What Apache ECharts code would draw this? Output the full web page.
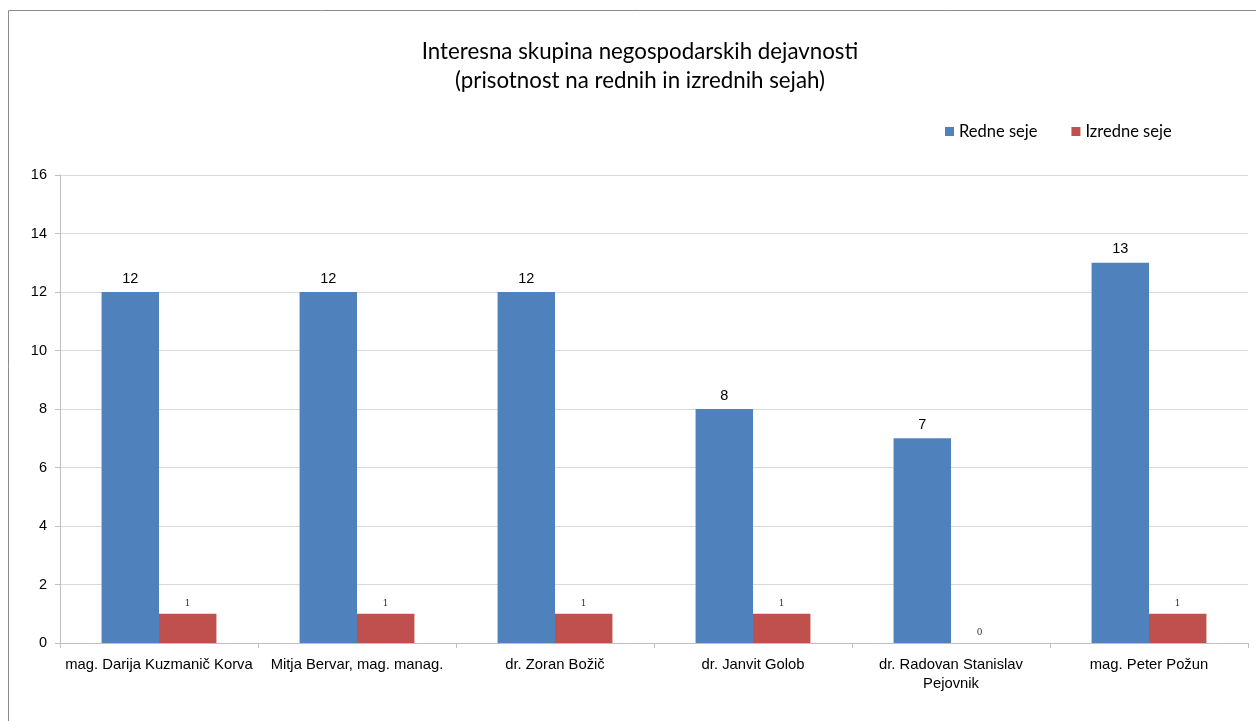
<!DOCTYPE html>
<html>
<head>
<meta charset="utf-8">
<script src="https://cdn.jsdelivr.net/npm/echarts@6/dist/echarts.min.js"></script>
<style>
  html, body { margin: 0; padding: 0; background: #fff; }
  #chart { width: 1256px; height: 721px; }
</style>
</head>
<body>
<div id="chart"></div>
<script>
// podatki
const categories = [
  "mag. Darija Kuzmanič Korva",
  "Mitja Bervar, mag. manag.",
  "dr. Zoran Božič",
  "dr. Janvit Golob",
  "dr. Radovan Stanislav\nPejovnik",
  "mag. Peter Požun"
];
const redneSeje = [12, 12, 12, 8, 7, 13];
const izredneSeje = [1, 1, 1, 1, 0, 1];
const yTicks = [0, 2, 4, 6, 8, 10, 12, 14, 16];

let myChart = echarts.init(document.getElementById("chart"));
myChart.setOption({
  animation: false,
  color: ["#4F81BD", "#C0504D"],
  graphic: [
    {
      type: "rect",
      shape: { x: 8.5, y: 10.5, width: 1260, height: 720 },
      style: { fill: "none", stroke: "#8c8c8c", lineWidth: 1 },
      silent: true
    }
  ],
  title: {
    text: "Interesna skupina negospodarskih dejavnosti\n(prisotnost na rednih in izrednih sejah)",
    left: 635,
    textAlign: "center",
    top: 32,
    textStyle: {
      fontFamily: "Lato",
      fontWeight: "normal",
      fontSize: 22.3,
      lineHeight: 29,
      color: "#000"
    }
  },
  legend: {
    data: ["Redne seje", "Izredne seje"],
    left: 940,
    top: 118,
    itemWidth: 9,
    itemHeight: 9,
    itemGap: 34,
    icon: "rect",
    textStyle: { fontFamily: "Lato", fontSize: 16.5, color: "#000" }
  },
  grid: {
    left: 60,
    right: 8,
    top: 175,
    bottom: 78
  },
  xAxis: {
    type: "category",
    data: categories,
    axisLine: { lineStyle: { color: "#BFBFBF" } },
    axisTick: { show: true, length: 5, lineStyle: { color: "#BFBFBF" } },
    axisLabel: {
      interval: 0,
      margin: 12,
      fontFamily: "Liberation Sans",
      fontSize: 14.8,
      lineHeight: 19,
      color: "#000"
    }
  },
  yAxis: {
    type: "value",
    min: 0,
    max: 16,
    interval: 2,
    axisLine: { show: true, lineStyle: { color: "#BFBFBF" } },
    axisTick: { show: true, length: 5, lineStyle: { color: "#BFBFBF" } },
    axisLabel: {
      margin: 13,
      fontFamily: "Liberation Sans",
      fontSize: 14.5,
      color: "#000",
      formatter: v => (yTicks.indexOf(v) >= 0 ? String(v) : "")
    },
    splitLine: { lineStyle: { color: "#D9D9D9" } }
  },
  series: [
    {
      name: "Redne seje",
      type: "bar",
      barGap: "0%",
      barCategoryGap: "42%",
      label: {
        show: true,
        position: "top",
        distance: 6,
        fontFamily: "Liberation Sans",
        fontSize: 14.5,
        color: "#000"
      },
      data: redneSeje
    },
    {
      name: "Izredne seje",
      type: "bar",
      label: {
        show: true,
        position: "top",
        distance: 6,
        fontFamily: "DejaVu Serif",
        fontSize: 9,
        color: "#333"
      },
      data: izredneSeje
    }
  ]
});
</script>
</body>
</html>
